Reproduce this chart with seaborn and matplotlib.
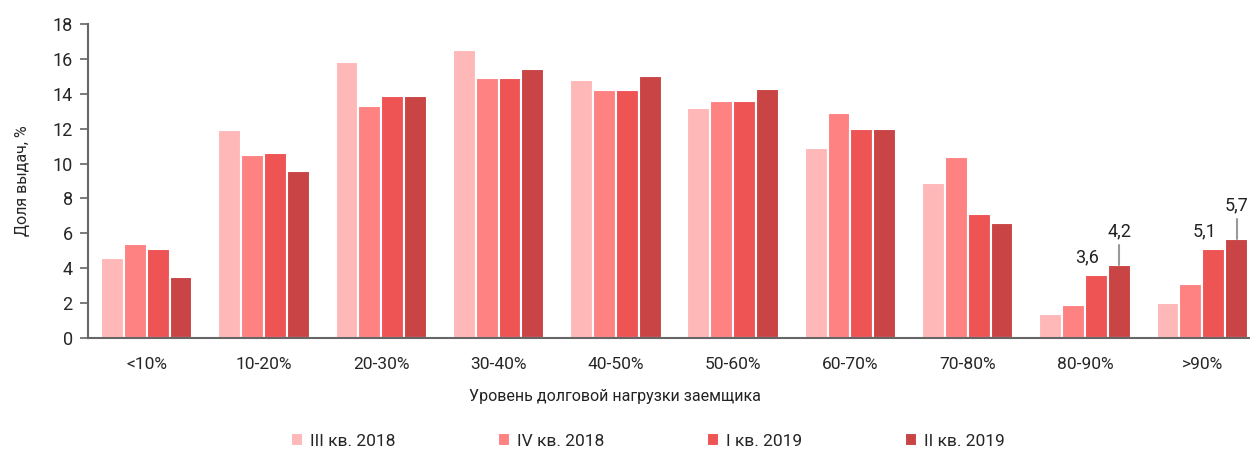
import matplotlib
matplotlib.use("Agg")
import matplotlib.pyplot as plt
import seaborn as sns
import pandas as pd

categories = ["<10%", "10-20%", "20-30%", "30-40%", "40-50%", "50-60%", "60-70%", "70-80%", "80-90%", ">90%"]
series_names = ["III кв. 2018", "IV кв. 2018", "I кв. 2019", "II кв. 2019"]
q3_2018 = [4.6, 11.9, 15.8, 16.5, 14.8, 13.2, 10.9, 8.9, 1.4, 2.0]
q4_2018 = [5.4, 10.5, 13.3, 14.9, 14.2, 13.6, 12.9, 10.4, 1.9, 3.1]
q1_2019 = [5.1, 10.6, 13.9, 14.9, 14.2, 13.6, 12.0, 7.1, 3.6, 5.1]
q2_2019 = [3.5, 9.6, 13.9, 15.4, 15.0, 14.3, 12.0, 6.6, 4.2, 5.7]
colors = ["#FFB8B8", "#FF8282", "#EF5455", "#C94545"]

# labelled points: (category, series, text, leader line)
annotations = [
    ("80-90%", "I кв. 2019", "3,6", False),
    ("80-90%", "II кв. 2019", "4,2", True),
    (">90%", "I кв. 2019", "5,1", False),
    (">90%", "II кв. 2019", "5,7", True),
]

sns.set_theme(style="white")
plt.rcParams["font.family"] = ["Roboto", "DejaVu Sans"]

rows = []
for name, vals in zip(series_names, [q3_2018, q4_2018, q1_2019, q2_2019]):
    for c, v in zip(categories, vals):
        rows.append({"cat": c, "series": name, "value": v})
df = pd.DataFrame(rows)

W, H = 1250, 453
fig = plt.figure(figsize=(W / 100, H / 100), dpi=100)
ax = fig.add_axes([88 / W, 1 - 338 / H, 1173 / W, 314 / H])
sns.barplot(data=df, x="cat", y="value", hue="series", order=categories,
            hue_order=series_names, palette=colors, width=0.78, saturation=1,
            edgecolor="white", linewidth=1.5, ax=ax, legend=True)

ax.set_ylim(0, 18)
ax.set_xlim(-0.5, len(categories) - 0.5)
ax.set_yticks(range(0, 19, 2))
ax.tick_params(axis="y", labelsize=13, length=6, width=1.2, color="#666666", left=True, pad=5)
ax.tick_params(axis="x", labelsize=12.5, length=0, pad=14)
for s in ["top", "right"]:
    ax.spines[s].set_visible(False)
for s in ["left", "bottom"]:
    ax.spines[s].set_color("#666666")
    ax.spines[s].set_linewidth(1.5)
ax.set_xlabel("")
ax.set_ylabel("Доля выдач, %", fontsize=11.5, labelpad=16)
fig.text(615 / W, 1 - 397 / H, "Уровень долговой нагрузки заемщика", ha="center", va="center",
         fontsize=11.5, color="#222222")

# annotations from bar patches
n_cat = len(categories)
for cat, ser, txt, leader in annotations:
    si = series_names.index(ser)
    ci = categories.index(cat)
    p = ax.patches[si * n_cat + ci]
    x = p.get_x() + p.get_width() / 2
    h = p.get_height()
    if leader:
        ax.plot([x, x], [h, h + 1.15], color="#999999", lw=1.5)
        ax.text(x, h + 1.6, txt, ha="center", va="baseline", fontsize=13, color="#222222")
    else:
        ax.text(x - 0.08, h + 0.75, txt, ha="center", va="baseline", fontsize=13, color="#222222")

handles, labels = ax.get_legend_handles_labels()
ax.get_legend().remove()
fig.legend(handles, labels, loc="center", bbox_to_anchor=(648 / W, 1 - 441 / H), ncol=4,
           frameon=False, fontsize=12.5, handlelength=0.7, handleheight=0.7,
           handletextpad=0.4, columnspacing=5.9)

fig.savefig("out.png", dpi=100)
